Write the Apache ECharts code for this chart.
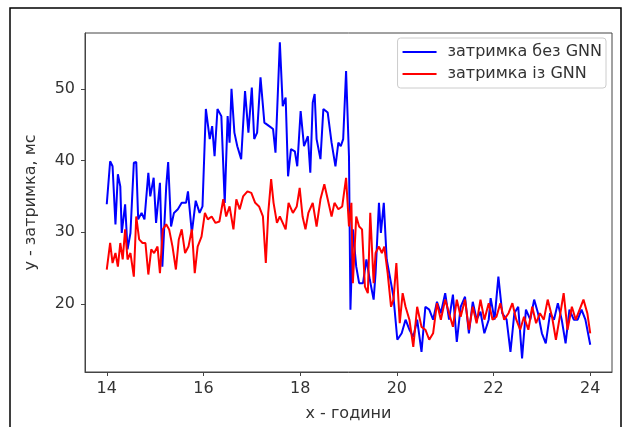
<!DOCTYPE html>
<html>
<head>
<meta charset="utf-8">
<script src="https://cdn.jsdelivr.net/npm/echarts@6/dist/echarts.min.js"></script>
<style>
  html, body { margin: 0; padding: 0; background: #fff; }
  #chart { width: 622px; height: 427px; }
</style>
</head>
<body>
<div id="chart"></div>
<script>
// затримка без GNN (синя)
var hoursBlue = [14.00,14.07,14.12,14.18,14.23,14.28,14.31,14.38,14.43,14.49,14.56,14.61,14.65,14.72,14.78,14.86,14.90,14.97,15.02,15.10,
  15.15,15.23,15.27,15.33,15.39,15.47,15.55,15.64,15.68,15.76,15.84,15.92,15.98,16.05,16.13,16.18,16.23,16.29,16.37,16.44,
  16.50,16.54,16.58,16.64,16.70,16.78,16.86,16.93,17.00,17.05,17.11,17.18,17.26,17.36,17.44,17.49,17.58,17.64,17.70,17.75,
  17.81,17.89,17.94,18.01,18.08,18.16,18.21,18.26,18.30,18.34,18.42,18.48,18.57,18.65,18.73,18.79,18.84,18.89,18.95,19.01,
  19.04,19.09,19.16,19.22,19.30,19.37,19.44,19.52,19.56,19.63,19.67,19.73,19.79,19.88,19.93,20.01,20.10,20.18,20.26,20.34,
  20.42,20.51,20.59,20.67,20.75,20.83,20.91,21.00,21.08,21.16,21.24,21.32,21.41,21.49,21.57,21.65,21.73,21.81,21.90,21.94,
  22.02,22.10,22.18,22.27,22.35,22.43,22.51,22.59,22.67,22.76,22.84,22.92,23.00,23.08,23.17,23.25,23.33,23.41,23.49,23.57,
  23.66,23.74,23.82,23.90,24.00];
var msBlue = [33.9,39.9,39.2,31.1,38.1,36.4,29.9,33.9,27.6,29.9,39.7,39.8,31.8,32.7,31.8,38.3,35.0,37.6,31.3,36.9,
  25.2,36.4,39.8,30.8,32.7,33.2,34.1,34.1,35.7,29.9,34.4,32.7,33.6,47.2,43.0,44.8,40.6,47.2,46.2,34.1,
  46.2,42.5,50.0,43.9,42.0,40.2,49.7,43.9,50.2,43.0,43.9,51.6,45.3,44.8,44.4,41.1,56.5,47.6,48.8,37.8,
  41.6,41.3,39.2,46.9,42.0,43.4,38.3,48.1,49.3,43.0,40.2,47.2,46.7,42.5,39.2,42.5,42.0,43.0,52.5,40.6,
  19.2,30.4,25.2,22.9,22.9,26.2,23.4,20.6,24.3,34.1,29.9,34.1,26.2,22.9,21.0,15.0,15.9,17.8,16.4,15.4,
  17.8,13.3,19.6,19.2,17.8,20.3,18.7,21.5,17.8,21.3,14.7,19.6,21.0,15.9,20.3,17.8,18.9,15.9,17.8,20.8,
  17.8,23.8,18.7,17.8,13.3,18.7,19.6,12.4,19.2,17.8,20.6,18.7,15.9,14.5,18.7,17.8,20.1,17.8,14.5,19.2,
  17.8,17.8,19.2,17.8,14.3];

// затримка із GNN (червона)
var hoursRed = [14.00,14.07,14.12,14.18,14.23,14.28,14.33,14.38,14.43,14.49,14.56,14.61,14.67,14.74,14.80,14.86,14.92,14.98,15.05,15.10,
  15.16,15.23,15.29,15.36,15.43,15.49,15.55,15.62,15.69,15.76,15.82,15.88,15.96,16.03,16.09,16.17,16.25,16.33,16.41,16.47,
  16.54,16.62,16.68,16.75,16.82,16.91,16.99,17.07,17.15,17.23,17.29,17.34,17.40,17.45,17.52,17.58,17.64,17.70,17.76,17.85,
  17.93,17.99,18.05,18.11,18.17,18.26,18.34,18.42,18.50,18.57,18.65,18.71,18.79,18.87,18.95,19.01,19.06,19.09,19.16,19.22,
  19.28,19.34,19.40,19.45,19.52,19.56,19.63,19.69,19.74,19.81,19.88,19.93,19.99,20.06,20.12,20.18,20.26,20.34,20.42,20.51,
  20.59,20.67,20.75,20.83,20.91,21.00,21.08,21.16,21.24,21.32,21.41,21.49,21.57,21.65,21.73,21.81,21.90,21.98,22.06,22.14,
  22.22,22.31,22.39,22.47,22.55,22.63,22.72,22.80,22.88,22.96,23.04,23.12,23.21,23.29,23.37,23.45,23.53,23.62,23.70,23.78,
  23.86,23.94,24.00];
var msRed = [24.8,28.5,25.7,27.1,25.2,28.5,26.2,30.4,26.2,27.1,23.8,32.2,29.0,28.5,28.5,24.1,27.6,27.1,28.0,24.3,
  30.4,31.1,30.4,28.0,24.8,29.0,30.4,27.1,28.0,30.4,24.3,28.0,29.4,32.7,31.8,32.2,31.3,31.5,34.6,32.2,
  33.6,30.4,34.6,33.2,35.0,35.7,35.5,34.1,33.6,32.2,25.7,32.7,37.4,34.1,31.3,32.2,31.3,30.4,34.1,32.7,
  33.6,36.2,32.2,30.4,32.7,34.1,30.8,34.6,36.7,34.6,32.2,34.1,33.2,33.6,37.6,30.8,34.1,22.9,32.2,30.8,
  30.4,22.4,21.5,32.7,22.9,27.1,28.0,27.1,28.0,24.3,19.6,20.6,25.7,17.3,21.5,19.6,17.8,14.0,19.6,16.8,
  16.4,15.0,15.9,20.1,17.8,20.6,18.7,16.8,20.6,18.2,20.6,16.4,19.6,17.3,20.6,17.8,20.1,17.8,18.2,20.1,
  17.8,18.7,20.1,17.8,16.4,18.2,16.4,19.6,17.3,18.7,17.8,20.6,18.2,15.0,18.2,21.5,16.4,19.6,17.8,19.2,
  20.6,18.7,15.9];

var xTicks = [14, 16, 18, 20, 22, 24];
var yTicks = [20, 30, 40, 50];
var seriesNames = ['затримка без GNN', 'затримка із GNN'];

function zip(xs, ys) {
    var out = [];
    for (var i = 0; i < xs.length; i++) {
        out.push([xs[i], ys[i]]);
    }
    return out;
}

var font = 'DejaVu Sans';
var myChart = echarts.init(document.getElementById('chart'));

var option = {
    animation: false,
    backgroundColor: '#fff',
    textStyle: { fontFamily: font },
    graphic: [{
        type: 'rect',
        shape: { x: 10, y: 8, width: 611, height: 430 },
        style: { fill: 'none', stroke: '#000', lineWidth: 1.5 },
        silent: true
    }],
    grid: {
        left: 85,
        top: 33,
        right: 10,
        bottom: 54,
        show: true,
        borderColor: '#444',
        borderWidth: 1,
        containLabel: false
    },
    legend: {
        orient: 'vertical',
        right: 16,
        top: 38,
        icon: 'rect',
        itemWidth: 34,
        itemHeight: 2,
        itemGap: 6,
        padding: [6, 4, 6, 5],
        borderColor: '#ccc',
        borderWidth: 1,
        borderRadius: 3,
        backgroundColor: '#fff',
        textStyle: { fontFamily: font, fontSize: 16, color: '#333', padding: [0, 0, 0, 6] },
        data: seriesNames
    },
    xAxis: {
        type: 'value',
        min: 13.55,
        max: 24.45,
        name: 'х - години',
        nameLocation: 'middle',
        nameGap: 34,
        nameTextStyle: { fontFamily: font, fontSize: 16, color: '#333' },
        splitLine: { show: false },
        axisLine: { show: true, lineStyle: { color: '#444' } },
        axisTick: { show: true, inside: false, length: 4, lineStyle: { color: '#444' }, customValues: xTicks },
        axisLabel: { fontFamily: font, fontSize: 16, color: '#333', margin: 9, customValues: xTicks }
    },
    yAxis: {
        type: 'value',
        min: 10.5,
        max: 57.8,
        name: 'у - затримка, мс',
        nameLocation: 'middle',
        nameGap: 46,
        nameTextStyle: { fontFamily: font, fontSize: 16, color: '#333' },
        splitLine: { show: false },
        axisLine: { show: true, lineStyle: { color: '#444' } },
        axisTick: { show: true, inside: false, length: 4, lineStyle: { color: '#444' }, customValues: yTicks },
        axisLabel: { fontFamily: font, fontSize: 16, color: '#333', margin: 10, customValues: yTicks }
    },
    series: [
        {
            name: seriesNames[0],
            type: 'line',
            data: zip(hoursBlue, msBlue),
            showSymbol: false,
            symbol: 'none',
            lineStyle: { color: '#0000ff', width: 2 },
            itemStyle: { color: '#0000ff' },
            z: 2
        },
        {
            name: seriesNames[1],
            type: 'line',
            data: zip(hoursRed, msRed),
            showSymbol: false,
            symbol: 'none',
            lineStyle: { color: '#ff0000', width: 2 },
            itemStyle: { color: '#ff0000' },
            z: 3
        }
    ]
};

myChart.setOption(option);
</script>
</body>
</html>
